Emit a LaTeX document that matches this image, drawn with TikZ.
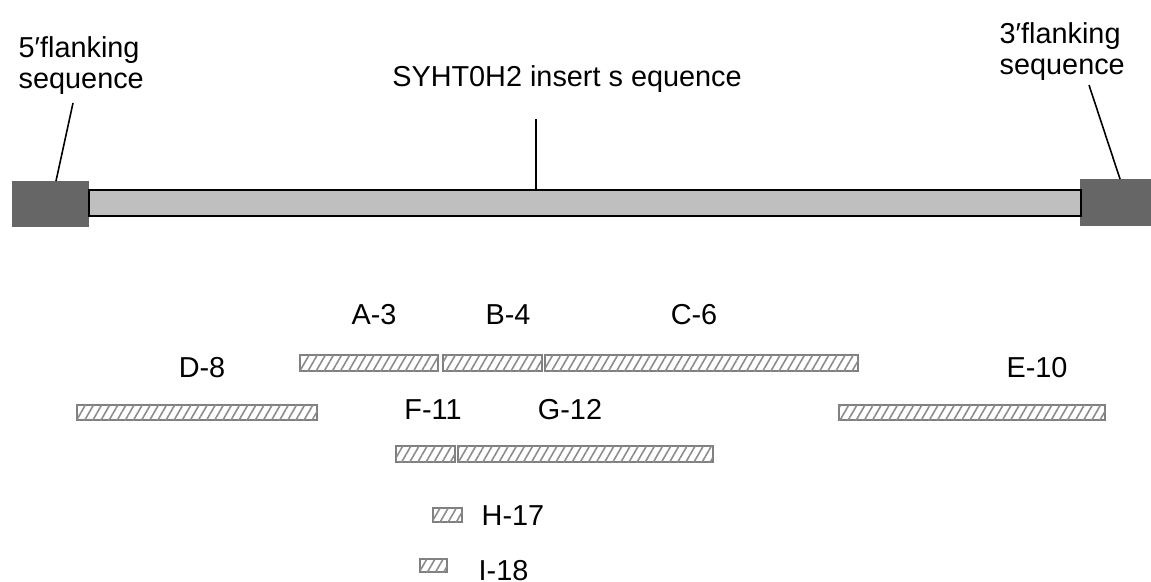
\documentclass[tikz,border=0pt]{standalone}
\usepackage{fontspec}
\setmainfont{Liberation Sans}
\usetikzlibrary{patterns.meta, calc}

\tikzset{
  flank/.style={draw=none, fill=black!60, inner sep=0, outer sep=0},
  insertbar/.style={draw=black, line width=0.6pt, fill=black!25, inner sep=0, outer sep=0},
  probebar/.style={draw=black!50, line width=0.5pt, fill=white, inner sep=0, outer sep=0, anchor=north west,
    postaction={pattern={Lines[angle=60, distance=2pt, line width=0.45pt]}, pattern color=black!45}},
  lbl/.style={inner sep=0, text=black},
  pointer/.style={draw=black, line width=0.45pt}
}

\begin{document}
\begin{tikzpicture}[x=0.01cm, y=-0.01cm, font=\fontsize{8.2}{8.8}\selectfont]
\useasboundingbox (0,0) rectangle (1151,581);

% Flanking sequences and insert
\node[flank, anchor=north west, minimum width=0.77cm, minimum height=0.46cm] (flank5) at (12,181) {};
\node[flank, anchor=north west, minimum width=0.72cm, minimum height=0.47cm] (flank3) at (1080,179) {};
\node[insertbar, anchor=north west, minimum width=9.91cm, minimum height=0.26cm] (insert) at (89,190) {};

% Top labels
\node[lbl, anchor=north west, align=left] (lbl5) at (18,36) {5′flanking\\sequence};
\node[lbl, anchor=north west, align=left] (lbl3) at (999,22) {3′flanking\\sequence};
\node[lbl, anchor=base] (lblins) at (567,86) {SYHT0H2 insert s equence};

% Pointers
\coordinate (tip5) at (73,103);
\coordinate (tip3) at (1089,85);
\coordinate (tipins) at (536,119);
\draw[pointer] (tip5) -- ($(flank5.north west)+(44,0)$);
\draw[pointer] (tip3) -- ($(flank3.north west)+(40,0)$);
\draw[pointer] (tipins) -- (tipins |- insert.north);

% Probe row 1
\node[probebar, minimum width=1.38cm, minimum height=0.16cm] (barA) at (300,355) {};
\node[probebar, minimum width=0.99cm, minimum height=0.16cm] (barB) at (443,355) {};
\node[probebar, minimum width=3.13cm, minimum height=0.16cm] (barC) at (545,355) {};
\node[lbl, anchor=base] (lblA) at (374,324) {A-3};
\node[lbl, anchor=base] (lblB) at (508,324) {B-4};
\node[lbl, anchor=base] (lblC) at (694,324) {C-6};

% Probe row 2
\node[probebar, minimum width=2.40cm, minimum height=0.15cm] (barD) at (77,405) {};
\node[probebar, minimum width=2.66cm, minimum height=0.15cm] (barE) at (839,405) {};
\node[lbl, anchor=base] (lblD) at (202,377) {D-8};
\node[lbl, anchor=base] (lblE) at (1037,377) {E-10};

% Probe row 3
\node[probebar, minimum width=0.59cm, minimum height=0.16cm] (barF) at (396,446) {};
\node[probebar, minimum width=2.55cm, minimum height=0.16cm] (barG) at (458,446) {};
\node[lbl, anchor=base] (lblF) at (433,419) {F-11};
\node[lbl, anchor=base] (lblG) at (570,419) {G-12};

% Short probes
\node[probebar, minimum width=0.29cm, minimum height=0.14cm] (barH) at (433,508) {};
\node[probebar, minimum width=0.27cm, minimum height=0.13cm] (barI) at (420,559) {};
\node[lbl, anchor=base west] (lblH) at (481,525) {H-17};
\node[lbl, anchor=base west] (lblI) at (478,580) {I-18};

\end{tikzpicture}
\end{document}
